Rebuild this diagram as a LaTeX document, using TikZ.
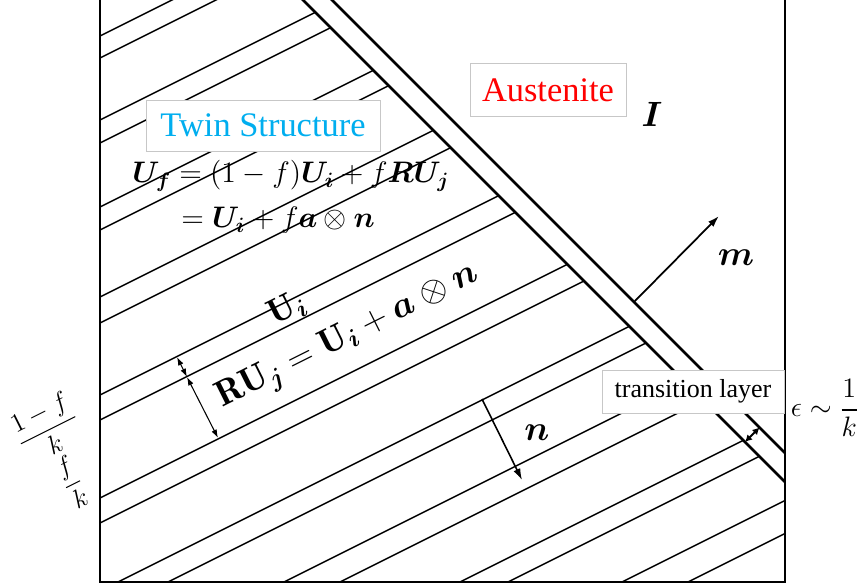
\RequirePackage{fix-cm}
\documentclass[tikz,border=0pt]{standalone}
\usepackage{amsmath}
\usepackage{bm}
\usepackage{fontspec}
\newfontfamily\labelfont{Liberation Serif}
\usetikzlibrary{arrows.meta}
\tikzset{>={Latex[length=6.5pt,width=4.2pt]}}
\definecolor{twincol}{RGB}{0,174,239}
\colorlet{austcol}{red}
\colorlet{tagline}{black!22}
\tikzstyle{wall}=[line width=1.1pt]
\tikzstyle{twinline}=[line width=0.85pt]
\tikzstyle{habit}=[line width=1.5pt]
\tikzstyle{tag}=[draw=tagline,fill=white,line width=0.5pt,inner sep=0pt]
\tikzstyle{gap}=[<->,>={Latex[length=4.8pt,width=3.2pt]},line width=0.6pt]
\def\fs#1{\fontsize{#1}{#1}\selectfont}
\def\tw{26.57} % angle of the twin planes

\begin{document}
\begin{tikzpicture}[x=0.02cm,y=-0.02cm]
  \useasboundingbox (0,0) rectangle (859,584);
  % twin layers, cut at the habit plane
  \begin{scope}
    \clip (100,-20) -- (283,-20) -- (785,482) -- (785,582) -- (100,582) -- cycle;
    \foreach \c in {36,58,120,143,207,230,297,323,395,420,498,523,591,616,674,702,762,786,843,876}
      \draw[twinline] (100,\c) -- ++(1400,-700);
  \end{scope}
  % sample
  \draw[wall] (100,-10) -- (100,582) -- (785,582) -- (785,-10);
  % habit plane, two sides of the transition layer
  \draw[habit] (283,-20) -- (785,482);
  \draw[habit] (312,-20) -- (785,453);
  % layer widths
  \coordinate (w1) at (177,357);
  \coordinate (w2) at (187,377);
  \coordinate (w3) at (218,438);
  \draw[gap] (w1) -- (w2);
  \draw[gap] (w2) -- (w3);
  \coordinate (e1) at (745,442);
  \coordinate (e2) at (759.5,427.5);
  \draw[<->,>={Latex[length=4pt,width=4.2pt]},line width=1.1pt] (e1) -- (e2);
  % normals
  \coordinate (n0) at (482,399);
  \coordinate (n1) at (522,480);
  \draw[->,line width=0.9pt] (n0) -- (n1);
  \coordinate (m0) at (634,302);
  \coordinate (m1) at (719,216);
  \draw[->,line width=1pt] (m0) -- (m1);
  % boxed labels
  \node[tag,minimum width=133.2pt,minimum height=29pt,font=\labelfont\fs{19.6},text=twincol] (twin) at (263,125.5) {Twin Structure};
  \node[tag,minimum width=88.8pt,minimum height=30.2pt,font=\labelfont\fs{19.6},text=austcol] (aust) at (548,90) {Austenite};
  \node[tag,minimum width=103.6pt,minimum height=24.5pt,font=\labelfont\fs{14.8}] (trans) at (693,391.5) {transition layer};
  % math labels
  \node[anchor=base west,font=\fs{16.9},inner sep=0pt] (eqtop) at (132,183) {$\bm U_{\bm f}=(1-f)\bm U_{\bm i}+f\bm R\bm U_{\bm j}$};
  \node[anchor=base west,font=\fs{16.9},inner sep=0pt] (eqbot) at (181,228) {$=\bm U_{\bm i}+f\bm a\otimes\bm n$};
  \node[rotate=\tw,font=\fs{20}] (ui) at (287,309) {$\mathbf U_{\bm i}$};
  \node[rotate=\tw,font=\fs{20.5}] (ruj) at (348,337) {$\mathbf{RU}_{\bm j}=\mathbf U_{\bm i}+\bm a\otimes\bm n$};
  \node[font=\fs{20}] (ident) at (652,114) {$\bm I$};
  \node[font=\fs{20}] (mlab) at (736,258) {$\bm m$};
  \node[font=\fs{20}] (nlab) at (537,433) {$\bm n$};
  \node[font=\fs{16}] (eps) at (825,408) {$\epsilon\sim\dfrac{1}{k}$};
  \node[rotate=\tw,font=\fs{15}] (gapa) at (47,428) {$\dfrac{1-f}{k}$};
  \node[rotate=\tw,font=\fs{15}] (gapb) at (72,482) {$\dfrac{f}{k}$};
\end{tikzpicture}
\end{document}
